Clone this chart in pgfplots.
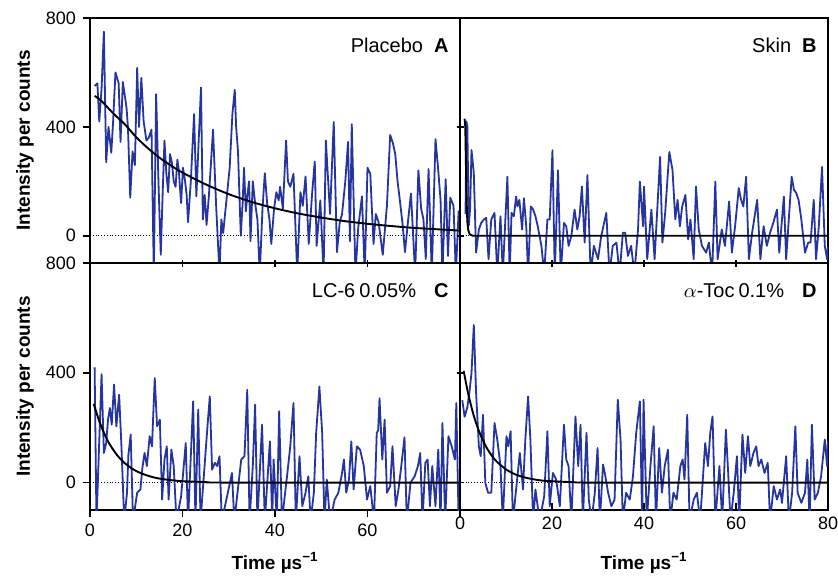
\documentclass[border=0pt]{standalone}
\usepackage{fontspec}
\setmainfont{Liberation Sans}
\usepackage{pgfplots}
\pgfplotsset{compat=1.18}
\definecolor{traceblue}{RGB}{38,52,160}

\pgfplotsset{
  panel/.style={
    scale only axis, width=185pt,
    xmin=0, xmax=80, ymin=-100, ymax=800,
    xtick={0,20,40,60,80}, ytick={0,400,800},
    xtick pos=bottom, ytick pos=left,
    axis line style={line width=1.1pt},
    major tick style={line width=0.75pt, black},
    major tick length=3.5pt,
    tick label style={font=\fontsize{9}{10}\selectfont},
    label style={font=\fontsize{9.5}{11}\selectfont\bfseries},
    /pgf/number format/assume math mode=true,
  },
  leftpanel/.style={tick align=outside,
    ylabel={Intensity per counts},
    ylabel style={at={(axis description cs:-0.176,0.5)}, anchor=center}},
  rightpanel/.style={yticklabels={}, y tick style={/pgfplots/tick align=center}},
  toppanel/.style={height=122.5pt, xticklabels={}, x tick style={/pgfplots/tick align=center}},
  botpanel/.style={height=123.5pt, xlabel={Time µs\textsuperscript{−1}},
    xlabel style={at={(axis description cs:0.5,-0.215)}, anchor=center}},
  trace/.style={color=traceblue, line width=0.9pt, line join=round, mark=none},
  fit/.style={black, line width=0.95pt, mark=none},
  zero/.style={black, densely dotted, line width=0.4pt, mark=none},
}
\tikzset{tag/.style={anchor=east, inner sep=0pt, font=\fontsize{10}{12}\selectfont}}

\begin{document}
\begin{tikzpicture}
\path[use as bounding box] (-45pt,9pt) rectangle (374pt,-278.5pt);

% ---- A: placebo
\begin{axis}[panel, leftpanel, toppanel, name=A, at={(0,0)}, anchor=north west]
\addplot[zero] coordinates {(0,0) (80,0)};
\addplot[trace] coordinates {
(1.0,550)(1.6,560)(2.0,420)(2.5,540)(3.0,750)(3.5,270)(4.0,400)(4.6,305)(5.0,420)(5.5,600)
(6.2,560)(6.6,345)(7.1,565)(7.9,470)(8.2,400)(8.7,140)(9.2,310)(9.7,260)(10.2,617)(10.6,400)
(11.1,580)(11.6,420)(12.2,350)(12.7,360)(13.3,390)(13.8,-140)(14.3,520)(14.8,200)(15.3,-70)(15.7,150)
(16.1,350)(16.5,230)(16.9,160)(17.3,300)(17.7,270)(18.1,200)(18.5,180)(18.9,280)(19.2,240)(19.7,120)
(20.1,250)(20.5,208)(20.9,150)(21.2,50)(21.8,200)(22.5,447)(23.0,145)(23.5,350)(24.0,545)(24.4,60)
(24.8,150)(25.2,40)(25.7,145)(26.2,280)(26.6,390)(27.3,100)(28.0,-140)(28.4,60)(28.8,10)(29.2,80)
(29.5,130)(30.2,250)(30.8,450)(31.3,536)(31.6,400)(32.0,310)(32.6,0)(33.0,120)(33.3,250)(33.7,90)
(34.0,145)(34.4,200)(34.7,-20)(35.2,200)(35.7,120)(36.2,60)(36.7,-140)(37.3,100)(37.8,230)(38.3,120)
(38.8,60)(39.2,-30)(39.8,100)(40.3,160)(40.8,130)(41.1,180)(41.7,100)(42.4,350)(42.8,200)(43.3,180)
(44.0,228)(44.8,-140)(45.5,160)(46.0,110)(46.6,218)(47.3,-30)(48.0,150)(48.6,273)(49.0,-37)(49.8,130)
(50.5,-140)(51.0,350)(51.5,200)(51.9,80)(52.7,418)(53.4,-60)(54.0,50)(54.5,80)(55.2,200)(55.8,345)
(56.2,-20)(56.6,410)(57.4,-140)(58.0,30)(58.8,145)(59.4,-140)(60.0,250)(60.6,228)(61.3,-30)(61.8,80)
(62.4,50)(63.3,-70)(64.2,110)(64.9,370)(65.5,340)(66.0,300)(66.5,200)(67.0,130)(67.6,40)(68.1,-60)
(68.8,60)(69.4,155)(70.3,-140)(71.0,240)(71.6,100)(72.1,60)(72.6,-85)(73.2,245)(73.9,-140)(74.7,355)
(75.3,240)(75.8,130)(76.2,-140)(76.9,208)(77.4,-74)(77.9,140)(78.6,110)(79.1,-140)(79.7,90)(80,60)};
\addplot[fit, smooth] coordinates {
(1,514)(2.5,495)(5,450)(7.5,410)(10,362)(12.5,322)(15,287)(17.5,258)(20,232)(25,189)(30,153)
(35,124)(40,101)(45,82)(50,67)(55,54)(60,44)(65,36)(70,29)(75,24)(80,19)};
\node[tag] at (rel axis cs:0.97,0.89) {Placebo\hspace{5.5pt}\textbf{A}};
\end{axis}

% ---- B: skin
\begin{axis}[panel, rightpanel, toppanel, name=B, at={(185pt,0)}, anchor=north west, width=184pt]
\addplot[zero] coordinates {(0,0) (80,0)};
\addplot[trace] coordinates {
(1.2,80)(1.4,420)(1.6,400)(1.9,36)(2.2,100)(2.5,315)(3.0,230)(3.5,-62)(4.1,23)(4.6,47)
(5.2,60)(5.7,66)(6.2,-86)(6.8,60)(7.5,84)(8.1,-140)(8.8,72)(9.3,-140)(10.3,217)(10.8,-140)
(11.2,84)(11.7,72)(12.2,144)(12.5,108)(12.9,132)(13.5,23)(13.9,138)(14.4,35)(14.8,-140)(15.4,108)
(15.9,96)(16.4,72)(16.9,35)(17.7,-37)(18.3,-140)(19.0,60)(19.5,60)(20.1,314)(20.6,-140)(21.3,241)
(21.9,-140)(22.6,47)(23.1,35)(23.6,-37)(24.2,-1)(24.9,96)(25.5,23)(26.0,72)(26.5,181)(27.1,-25)
(27.7,223)(28.4,-140)(29.1,-37)(30.0,-86)(30.7,-1)(31.8,84)(32.5,-140)(33.2,-37)(34.0,-25)(34.7,-140)
(35.4,11)(35.9,11)(36.5,-74)(37.2,-37)(37.9,-140)(38.7,23)(39.1,199)(39.8,35)(40.0,181)(40.7,-86)
(41.6,96)(42.3,-86)(43.5,290)(44.0,-25)(44.6,84)(45.5,308)(46.2,241)(46.8,60)(47.3,132)(47.8,35)
(48.3,108)(49.0,150)(49.6,-13)(50.1,60)(50.8,-86)(51.3,181)(51.9,23)(52.6,-37)(53.5,-62)(54.1,-25)
(54.8,-140)(55.5,199)(56.0,-86)(56.9,23)(57.6,-37)(58.5,126)(59.1,-62)(59.8,35)(60.6,175)(61.1,132)
(61.6,108)(62.2,217)(62.8,-86)(63.5,11)(64.6,132)(65.3,-86)(66.0,35)(66.7,-37)(67.4,11)(68.1,47)
(68.9,96)(69.4,-62)(70.0,60)(70.4,144)(70.9,-86)(72.1,217)(72.6,169)(73.1,157)(73.6,132)(74.2,60)
(75.0,-62)(75.7,-25)(76.2,-25)(76.9,132)(77.4,-86)(78.0,35)(78.7,253)(79.3,-37)(79.8,-86)(80,-40)};
\addplot[fit] coordinates {
(1.0,430)(1.15,400)(1.3,250)(1.45,120)(1.6,50)(1.8,20)(2.1,6)(2.6,1)(3,0)(80,0)};
\node[tag] at (rel axis cs:0.97,0.89) {Skin\hspace{5.5pt}\textbf{B}};
\end{axis}

% ---- C: LC-6 0.05%
\begin{axis}[panel, leftpanel, botpanel, name=C, at={(0,-122.5pt)}, anchor=north west,
  xticklabels={0,20,40,60,}]
\addplot[zero] coordinates {(0,0) (80,0)};
\addplot[trace] coordinates {
(1.0,420)(1.4,-140)(2.0,150)(2.5,395)(3.0,108)(3.5,144)(3.9,230)(4.3,272)(4.7,211)(5.2,357)
(5.7,205)(6.3,320)(6.8,132)(7.4,-140)(8.0,-37)(8.3,100)(8.8,175)(9.3,-140)(10.2,-37)(10.9,-25)
(11.3,50)(11.8,108)(12.3,60)(12.9,169)(13.4,132)(14.0,381)(14.5,205)(15.1,229)(15.6,-62)(16.1,84)
(16.6,132)(17.0,-62)(17.6,120)(18.1,60)(18.7,-140)(19.7,-50)(20.7,144)(21.2,-140)(22.3,296)(22.8,-140)
(23.4,266)(23.9,-140)(25.4,205)(25.9,314)(26.4,47)(27.0,72)(27.5,60)(28.0,96)(28.5,-140)(29.8,-37)
(30.7,35)(31.2,-140)(32.7,84)(33.4,96)(34.0,338)(34.5,-140)(35.2,60)(35.7,284)(36.2,-140)(37.2,211)
(37.8,-140)(38.9,150)(39.4,-140)(39.7,84)(40.4,-140)(40.9,260)(41.5,-140)(42.6,23)(43.3,132)(44.0,290)
(44.5,-140)(45.3,96)(45.9,-86)(46.6,-37)(47.2,23)(47.7,-140)(48.4,-37)(48.9,181)(49.6,350)(50.2,181)
(50.7,-140)(51.2,11)(51.9,-140)(52.9,-62)(53.7,-37)(54.5,35)(54.9,84)(55.4,-37)(56.0,11)(56.5,150)
(57.0,-25)(57.7,132)(58.4,120)(59.2,60)(59.9,-62)(60.6,-13)(61.4,-140)(62.0,181)(62.3,190)(62.6,307)
(63.2,84)(63.7,229)(64.2,-37)(64.9,-13)(65.4,132)(66.1,-86)(66.7,-25)(67.3,60)(68.0,165)(68.5,-140)
(69.3,0)(70.2,23)(70.9,60)(71.4,108)(71.9,-140)(72.5,72)(73.0,84)(73.5,-86)(74.0,60)(74.7,-86)
(75.3,120)(75.8,-140)(76.2,217)(76.8,-140)(77.5,169)(78.2,132)(78.9,84)(79.2,290)(79.7,-140)(80,-60)};
\addplot[fit, smooth] coordinates {
(0.8,287)(1,276)(2,224)(3,182)(4,147)(5,120)(6,97)(7,79)(8,64)(10,42)(12,28)(14,18)(16,12)
(18,8)(20,5)(25,2)(30,0)(80,0)};
\node[tag] at (rel axis cs:0.97,0.89) {LC-6\hspace{2pt}0.05\%\hspace{9pt}\textbf{C}};
\end{axis}

% ---- D: alpha-Toc 0.1%
\begin{axis}[panel, rightpanel, botpanel, name=D, at={(185pt,-122.5pt)}, anchor=north west, width=184pt]
\addplot[zero] coordinates {(0,0) (80,0)};
\addplot[trace] coordinates {
(0.5,300)(1.0,240)(1.6,275)(2.1,337)(2.5,400)(3.0,574)(3.5,326)(4.1,132)(4.5,96)(5.0,247)
(5.5,-1)(6.1,-37)(6.8,-37)(7.5,217)(8.1,157)(8.8,60)(9.3,-140)(10.1,169)(10.5,132)(11.0,187)
(11.5,-140)(13.0,108)(13.7,-25)(14.2,157)(14.8,314)(15.3,157)(15.9,-140)(16.4,-25)(17.3,-140)(18.3,-50)
(19.0,187)(19.5,-86)(20.2,35)(20.9,11)(21.7,-86)(22.6,211)(23.1,84)(23.6,60)(24.2,-140)(25.1,241)
(25.7,60)(26.2,211)(26.7,-140)(27.5,181)(28.0,-62)(28.6,-140)(29.3,-37)(29.9,126)(30.4,-140)(31.1,66)
(31.6,23)(32.2,-37)(32.9,-86)(33.6,-62)(34.3,302)(34.9,157)(35.4,-140)(36.1,-37)(36.9,-62)(37.6,23)
(38.3,181)(39.1,296)(39.6,-140)(39.9,302)(40.6,-140)(41.4,60)(42.1,205)(42.6,-140)(43.3,126)(43.9,-37)
(44.5,60)(45.2,120)(45.7,-140)(46.4,-37)(47.1,-62)(47.9,60)(48.4,84)(48.8,11)(49.4,247)(49.9,-140)
(50.8,-62)(51.5,-37)(52.2,-140)(53.3,144)(53.9,60)(54.4,181)(54.9,241)(55.5,-140)(56.4,60)(57.0,-140)
(57.8,193)(58.3,35)(58.8,-140)(59.5,-37)(60.2,96)(60.7,-140)(61.4,175)(62.0,35)(62.6,169)(63.1,60)
(63.8,108)(64.4,132)(64.9,60)(65.5,84)(66.2,35)(66.9,72)(67.4,-140)(68.2,-13)(68.9,-62)(69.6,-25)
(70.0,-74)(70.9,96)(71.5,-140)(72.2,-37)(72.9,205)(73.4,-37)(74.2,-74)(75.0,-37)(75.5,84)(76.0,-140)
(76.5,211)(77.1,-62)(77.8,-37)(78.5,23)(79.3,157)(79.8,60)(80,150)};
\addplot[fit, smooth] coordinates {
(0.8,407)(1.5,346)(2,308)(3,243)(4,193)(5,153)(6,121)(7,96)(8,76)(10,48)(12,30)(14,19)(16,12)
(18,7)(20,5)(25,1)(30,0)(80,0)};
\node[tag] at (rel axis cs:0.97,0.89) {$\alpha$-Toc\hspace{2pt}0.1\%\hspace{9pt}\textbf{D}};
\end{axis}
\end{tikzpicture}
\end{document}
